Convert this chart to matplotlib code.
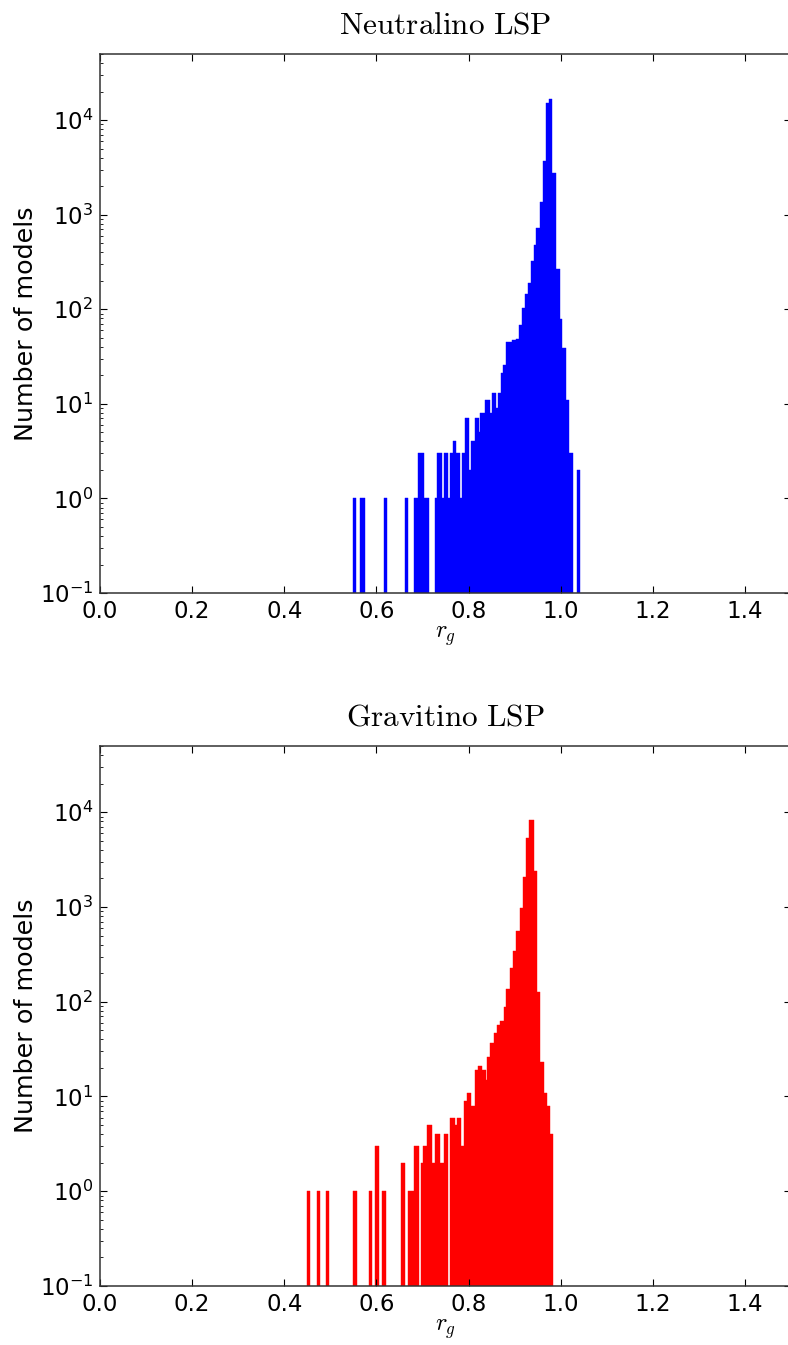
import numpy as np
import matplotlib
matplotlib.use("Agg")
import matplotlib.pyplot as plt
from matplotlib.ticker import LogLocator

# ── Data ───────────────────────────────────────────────────────────────────────
# Neutralino LSP: bin lower edge, upper edge, number of models
neu_lo = [0.5500, 0.5643, 0.6165, 0.6622, 0.6817, 0.6913, 0.7028,
          0.7274, 0.7311, 0.7420, 0.7478, 0.7550, 0.7587, 0.7659, 0.7733,
          0.7820, 0.7854, 0.7928, 0.8007, 0.8059, 0.8130, 0.8217, 0.8254,
          0.8363, 0.8472, 0.8515, 0.8587, 0.8637, 0.8711, 0.8746, 0.8820,
          0.8935, 0.9022, 0.9093, 0.9167, 0.9224, 0.9289, 0.9354, 0.9413,
          0.9472, 0.9559, 0.9615, 0.9689, 0.9746, 0.9820, 0.9907, 0.9978,
          1.0037, 1.0109, 1.0180, 1.0354]
neu_hi = [0.5565, 0.5763, 0.6233, 0.6689, 0.6913, 0.7028, 0.7139,
          0.7311, 0.7420, 0.7478, 0.7550, 0.7587, 0.7659, 0.7733, 0.7820,
          0.7854, 0.7928, 0.8007, 0.8059, 0.8130, 0.8217, 0.8254, 0.8363,
          0.8472, 0.8515, 0.8587, 0.8637, 0.8711, 0.8746, 0.8820, 0.8935,
          0.9022, 0.9093, 0.9167, 0.9224, 0.9289, 0.9354, 0.9413, 0.9472,
          0.9559, 0.9615, 0.9689, 0.9746, 0.9820, 0.9907, 0.9978, 1.0037,
          1.0109, 1.0180, 1.0276, 1.0422]
neu_n  = [1, 1, 1, 1, 1, 3, 1,
          1, 3, 1, 3, 1, 3, 4, 3,
          1, 3, 7, 2, 4, 7, 5, 8,
          11, 8, 13, 9, 13, 21, 26, 45,
          47, 49, 68, 102, 145, 191, 323, 477,
          716, 1370, 3690, 15100, 16900, 2740, 266, 79,
          39, 11, 3, 2]

# Gravitino LSP
gra_lo = [0.4500, 0.4702, 0.4904, 0.5500, 0.5839, 0.5972, 0.6122,
          0.6535, 0.6693, 0.6826, 0.6976, 0.7022, 0.7093, 0.7202, 0.7276,
          0.7370, 0.7457, 0.7596, 0.7696, 0.7746, 0.7841, 0.7891, 0.7963,
          0.8059, 0.8130, 0.8202, 0.8289, 0.8370, 0.8398, 0.8472, 0.8543,
          0.8615, 0.8689, 0.8761, 0.8820, 0.8891, 0.8963, 0.9037, 0.9109,
          0.9180, 0.9254, 0.9304, 0.9413, 0.9485, 0.9559, 0.9630, 0.9702,
          0.9776]
gra_hi = [0.4565, 0.4767, 0.4978, 0.5572, 0.5907, 0.6063, 0.6204,
          0.6617, 0.6826, 0.6935, 0.7022, 0.7093, 0.7202, 0.7276, 0.7370,
          0.7457, 0.7565, 0.7696, 0.7746, 0.7841, 0.7891, 0.7963, 0.8059,
          0.8130, 0.8202, 0.8289, 0.8370, 0.8398, 0.8472, 0.8543, 0.8615,
          0.8689, 0.8761, 0.8820, 0.8891, 0.8963, 0.9037, 0.9109, 0.9180,
          0.9254, 0.9304, 0.9413, 0.9485, 0.9559, 0.9630, 0.9702, 0.9776,
          0.9841]
gra_n  = [1, 1, 1, 1, 1, 3, 1,
          2, 1, 3, 2, 3, 5, 2, 4,
          2, 4, 6, 5, 6, 3, 9, 11,
          8, 19, 21, 19, 15, 26, 37, 47,
          57, 63, 89, 136, 226, 347, 557, 977,
          2080, 5380, 8280, 2380, 128, 23, 11, 8,
          4]

panels = [("Neutralino LSP", neu_lo, neu_hi, neu_n, "#0000ff"),
          ("Gravitino LSP",  gra_lo, gra_hi, gra_n, "#ff0000")]

x_ticks = [0.0, 0.2, 0.4, 0.6, 0.8, 1.0, 1.2, 1.4]

# ── Figure ─────────────────────────────────────────────────────────────────────
plt.rcParams["mathtext.fontset"] = "cm"
plt.rcParams["font.family"] = "DejaVu Sans"

W, H = 788, 1345
fig = plt.figure(figsize=(W / 100, H / 100), dpi=100, facecolor="white")

# axes boxes in pixels: left, top, right, bottom (right spine sits just off the page)
boxes = [(100, 54, 791, 593), (100, 746, 791, 1286)]

for (title, lo, hi, n, color), (l, t, r, b) in zip(panels, boxes):
    ax = fig.add_axes([l / W, 1 - b / H, (r - l) / W, (b - t) / H])
    lo = np.array(lo)
    hi = np.array(hi)
    ax.bar(lo, n, width=hi - lo, align="edge", color=color,
           edgecolor=color, linewidth=0.3)
    ax.set_yscale("log")
    ax.set_xlim(0, 1.5)
    ax.set_ylim(0.1, 5e4)

    ax.set_xticks(x_ticks)
    ax.xaxis.set_major_formatter(plt.FormatStrFormatter("%.1f"))
    ax.yaxis.set_major_locator(LogLocator(base=10, numticks=10))
    ax.yaxis.set_minor_locator(LogLocator(base=10, subs=np.arange(2, 10), numticks=10))
    ax.tick_params(which="both", direction="in", top=True, right=True,
                   labelsize=16.5, colors="black", pad=5)
    ax.tick_params(which="major", length=5, width=0.8)
    ax.tick_params(which="minor", length=2.5, width=0.6)
    for s in ax.spines.values():
        s.set_linewidth(1.1)
        s.set_color("#333333")

    ax.set_title(r"$\mathrm{%s}$" % title.replace(" ", r"\ "), fontsize=22.5, pad=15)
    ax.set_xlabel(r"$r_g$", fontsize=17.5, labelpad=1)
    ax.set_ylabel("Number of models", fontsize=18.3, labelpad=1)

fig.savefig("out.png", dpi=100, facecolor="white")
